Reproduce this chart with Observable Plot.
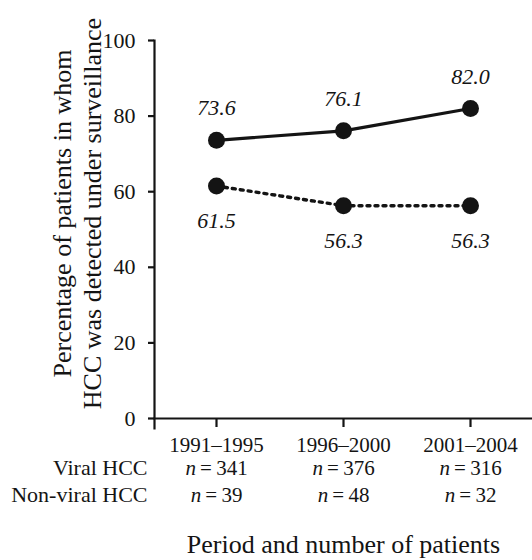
<!DOCTYPE html>
<html><head><meta charset="utf-8">
<script src="https://cdn.jsdelivr.net/npm/d3@7"></script>
<script src="https://cdn.jsdelivr.net/npm/@observablehq/plot@0.6"></script>
<style>
body{margin:0;background:#fff}
#chart svg, #chart svg text {font-family: 'Liberation Serif', 'Times New Roman', serif !important;}
</style>
</head><body><div id="chart"></div>
<script>
const periods = ["1991–1995", "1996–2000", "2001–2004"];
const viralPct = [73.6, 76.1, 82.0];
const nonViralPct = [61.5, 56.3, 56.3];
const viralN = [341, 376, 316];
const nonViralN = [39, 48, 32];
const rowLabels = ["Viral HCC", "Non-viral HCC"];
const yTicks = [0, 20, 40, 60, 80, 100];
const yTitle = "Percentage of patients in whom\nHCC was detected under surveillance";
const xTitle = "Period and number of patients";

const viral = periods.map((p, i) => ({period: p, value: viralPct[i], n: viralN[i]}));
const nonViral = periods.map((p, i) => ({period: p, value: nonViralPct[i], n: nonViralN[i]}));

const font = "'Liberation Serif', 'Times New Roman', serif";
const ink = "#141414";

const chart = Plot.plot({
  width: 532, height: 560,
  marginTop: 40, marginBottom: 142, marginLeft: 154, marginRight: 0,
  style: {fontFamily: font, color: ink, background: "#fff", overflow: "visible"},
  x: {type: "point", domain: periods, padding: 0.48, align: 0.5},
  y: {domain: [0, 100]},
  marks: [
    Plot.frame({anchor: "left", strokeWidth: 2.2, stroke: ink, insetBottom: -10}),
    Plot.frame({anchor: "bottom", strokeWidth: 2.2, stroke: ink}),
    Plot.axisY({ticks: yTicks, tickSize: 6, tickPadding: 13, fontSize: 22, label: null, strokeWidth: 2.2}),
    Plot.axisX({tickSize: 9, tickPadding: 10, fontSize: 21, label: null, strokeWidth: 2.2}),
    Plot.line(viral, {x: "period", y: "value", stroke: ink, strokeWidth: 3.2}),
    Plot.line(nonViral, {x: "period", y: "value", stroke: ink, strokeWidth: 3.4, strokeDasharray: "3,5"}),
    Plot.dot(viral, {x: "period", y: "value", r: 8.5, fill: ink}),
    Plot.dot(nonViral, {x: "period", y: "value", r: 8.5, fill: ink}),
    Plot.text(viral, {x: "period", y: "value", text: d => d.value.toFixed(1), dy: -32, fontSize: 22, fontStyle: "italic", fill: ink}),
    Plot.text(nonViral, {x: "period", y: "value", text: d => d.value.toFixed(1), dy: 35, fontSize: 22, fontStyle: "italic", fill: ink}),
    Plot.text(viral, {x: "period", text: d => `n\u2009=\u2009${d.n}`, frameAnchor: "bottom", dy: 56, fontSize: 21, fill: ink, className: "nrow"}),
    Plot.text(nonViral, {x: "period", text: d => `n\u2009=\u2009${d.n}`, frameAnchor: "bottom", dy: 83, fontSize: 21, fill: ink, className: "nrow"}),
    Plot.text([rowLabels[0]], {text: d => d, frameAnchor: "bottom-left", textAnchor: "end", dx: -7, dy: 56, fontSize: 22, fill: ink}),
    Plot.text([rowLabels[1]], {text: d => d, frameAnchor: "bottom-left", textAnchor: "end", dx: -7, dy: 83, fontSize: 22, fill: ink}),
    Plot.text([xTitle], {text: d => d, frameAnchor: "bottom", dy: 134, fontSize: 26, fill: ink}),
    Plot.text([yTitle], {text: d => d, frameAnchor: "left", rotate: -90, dx: -78, dy: -16, fontSize: 26, lineHeight: 1.15, textAnchor: "middle", lineAnchor: "middle", fill: ink})
  ]
});

d3.select(chart).selectAll("g.nrow text").each(function() {
  const t = this.textContent;
  const sel = d3.select(this);
  sel.text(null);
  sel.append("tspan").attr("font-style", "italic").text(t.slice(0, 1));
  sel.append("tspan").text(t.slice(1));
});

document.getElementById("chart").appendChild(chart);
</script>
</body></html>
